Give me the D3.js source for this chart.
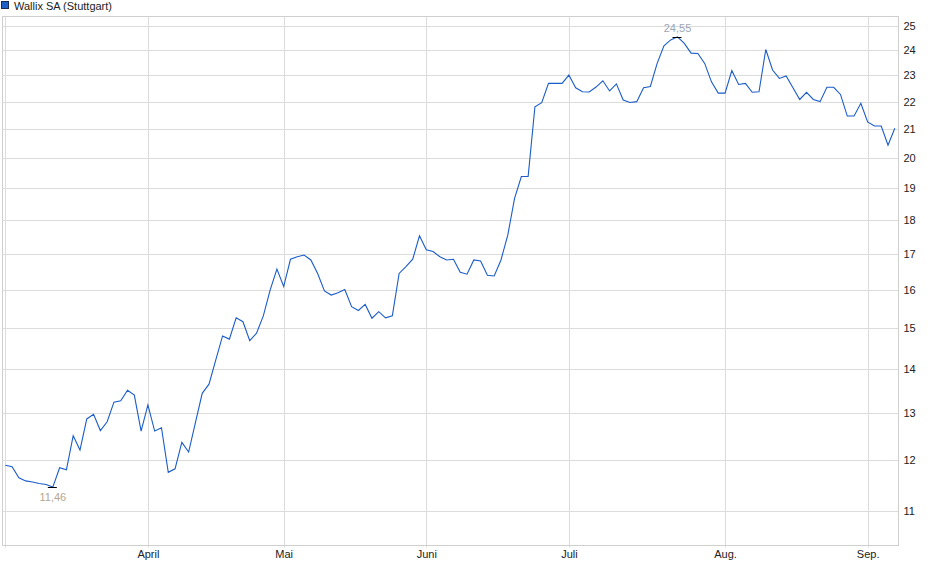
<!DOCTYPE html>
<html>
<head>
<meta charset="utf-8">
<script src="https://cdn.jsdelivr.net/npm/d3@7"></script>
<style>
  body { margin: 0; background: #fff; }
  svg { display: block; font-family: 'Liberation Sans', Arial, sans-serif; }
</style>
</head>
<body>
<svg id="chart" width="940" height="579"></svg>
<script>
// Wallix SA (Stuttgart), daily closes Mar - Sep (one value per trading day)
const prices = [
  11.89, 11.86, 11.64, 11.58, 11.56, 11.53, 11.51, 11.46, 11.84, 11.80,
  12.50, 12.20, 12.86, 12.96, 12.61, 12.80, 13.23, 13.26, 13.50, 13.39,
  12.60, 13.17, 12.60, 12.67, 11.75, 11.82, 12.36, 12.16, 12.78, 13.43,
  13.64, 14.21, 14.80, 14.72, 15.26, 15.16, 14.68, 14.87, 15.31, 15.99,
  16.57, 16.09, 16.85, 16.92, 16.97, 16.83, 16.45, 15.97, 15.86, 15.92,
  16.01, 15.55, 15.45, 15.61, 15.25, 15.42, 15.26, 15.31, 16.45, 16.64,
  16.85, 17.53, 17.12, 17.07, 16.92, 16.83, 16.85, 16.48, 16.43, 16.83,
  16.80, 16.40, 16.38, 16.83, 17.55, 18.68, 19.38, 19.38, 21.81, 21.96,
  22.69, 22.69, 22.69, 23.01, 22.52, 22.37, 22.36, 22.55, 22.79, 22.40,
  22.67, 22.06, 21.97, 22.00, 22.52, 22.57, 23.47, 24.18, 24.42, 24.55,
  24.28, 23.88, 23.87, 23.47, 22.75, 22.32, 22.32, 23.19, 22.65, 22.69,
  22.35, 22.37, 24.03, 23.21, 22.88, 22.98, 22.52, 22.08, 22.35, 22.08,
  22.00, 22.54, 22.54, 22.27, 21.47, 21.47, 21.94, 21.26, 21.11, 21.11,
  20.44, 21.03
]

// first trading day of each month (index into prices) and its label
const monthStarts = [0, 21, 41, 62, 83, 106, 127]
const monthLabels = ['', 'April', 'Mai', 'Juni', 'Juli', 'Aug.', 'Sep.']

const yTicks = [11, 12, 13, 14, 15, 16, 17, 18, 19, 20, 21, 22, 23, 24, 25]
const seriesName = 'Wallix SA (Stuttgart)'

const de = d3.formatLocale({ decimal: ',', thousands: '.', grouping: [3], currency: ['', ' €'] })
const fmt = de.format('.2f')

const svg = d3.select('#chart')
const pLeft = 2.5, pRight = 898.5, pTop = 16.5, pBottom = 545.5

const x = d3.scaleLinear()
  .domain([0, prices.length - 1])
  .range([5.3, 894.8])

const y = d3.scaleLog()
  .domain([10.39, 25.43])
  .range([545, 16])

const snap = v => Math.round(v) + 0.5

// legend
svg.append('rect')
  .attr('x', 1.5).attr('y', 1.5)
  .attr('width', 7).attr('height', 7)
  .attr('fill', '#1f5fc8')
  .attr('stroke', '#1a2a55')
  .attr('stroke-width', 1)
svg.append('text')
  .attr('x', 14).attr('y', 10)
  .attr('font-size', 11)
  .attr('fill', '#222')
  .text(seriesName)

// grid
const grid = svg.append('g').attr('stroke', '#dcdcdc').attr('stroke-width', 1)
grid.selectAll('.hg')
  .data(yTicks)
  .join('line')
  .attr('x1', pLeft).attr('x2', pRight)
  .attr('y1', d => snap(y(d))).attr('y2', d => snap(y(d)))
grid.selectAll('.vg')
  .data(monthStarts)
  .join('line')
  .attr('x1', d => snap(x(d))).attr('x2', d => snap(x(d)))
  .attr('y1', pTop).attr('y2', pBottom + 2)

// frame
svg.append('rect')
  .attr('x', pLeft).attr('y', pTop)
  .attr('width', pRight - pLeft).attr('height', pBottom - pTop)
  .attr('fill', 'none')
  .attr('stroke', '#cfcfcf')

// right axis
const yAxis = svg.append('g')
  .attr('transform', `translate(${pRight},0)`)
  .call(d3.axisRight(y).tickValues(yTicks).tickFormat(d3.format('d')).tickSize(0).tickPadding(5))
yAxis.select('.domain').remove()
yAxis.selectAll('text')
  .attr('font-size', 11)
  .attr('font-family', 'Liberation Sans, Arial, sans-serif')
  .attr('fill', '#222')

// bottom axis
const xAxis = svg.append('g')
  .attr('transform', `translate(0,${pBottom})`)
  .call(d3.axisBottom(x).tickValues(monthStarts).tickFormat((d, i) => monthLabels[i]).tickSize(0).tickPadding(5))
xAxis.select('.domain').remove()
xAxis.selectAll('text')
  .attr('font-size', 11)
  .attr('font-family', 'Liberation Sans, Arial, sans-serif')
  .attr('fill', '#222')

// price line
svg.append('path')
  .datum(prices)
  .attr('fill', 'none')
  .attr('stroke', '#1a5cc8')
  .attr('stroke-width', 1.1)
  .attr('d', d3.line()
    .x((d, i) => x(i))
    .y(d => y(d)))

// high / low markers
const hi = d3.maxIndex(prices)
const lo = d3.minIndex(prices)
const marks = [
  { i: hi, dy: -5, color: '#9ca6b3' },
  { i: lo, dy: 14, color: '#b3a793' }
]
svg.selectAll('.mk')
  .data(marks)
  .join('line')
  .attr('x1', d => x(d.i) - 5).attr('x2', d => x(d.i) + 4)
  .attr('y1', d => snap(y(prices[d.i]))).attr('y2', d => snap(y(prices[d.i])))
  .attr('stroke', '#000')
svg.selectAll('.ml')
  .data(marks)
  .join('text')
  .attr('x', d => x(d.i))
  .attr('y', d => y(prices[d.i]) + d.dy)
  .attr('text-anchor', 'middle')
  .attr('font-size', 11)
  .attr('fill', d => d.color)
  .text(d => fmt(prices[d.i]))
</script>
</body>
</html>
